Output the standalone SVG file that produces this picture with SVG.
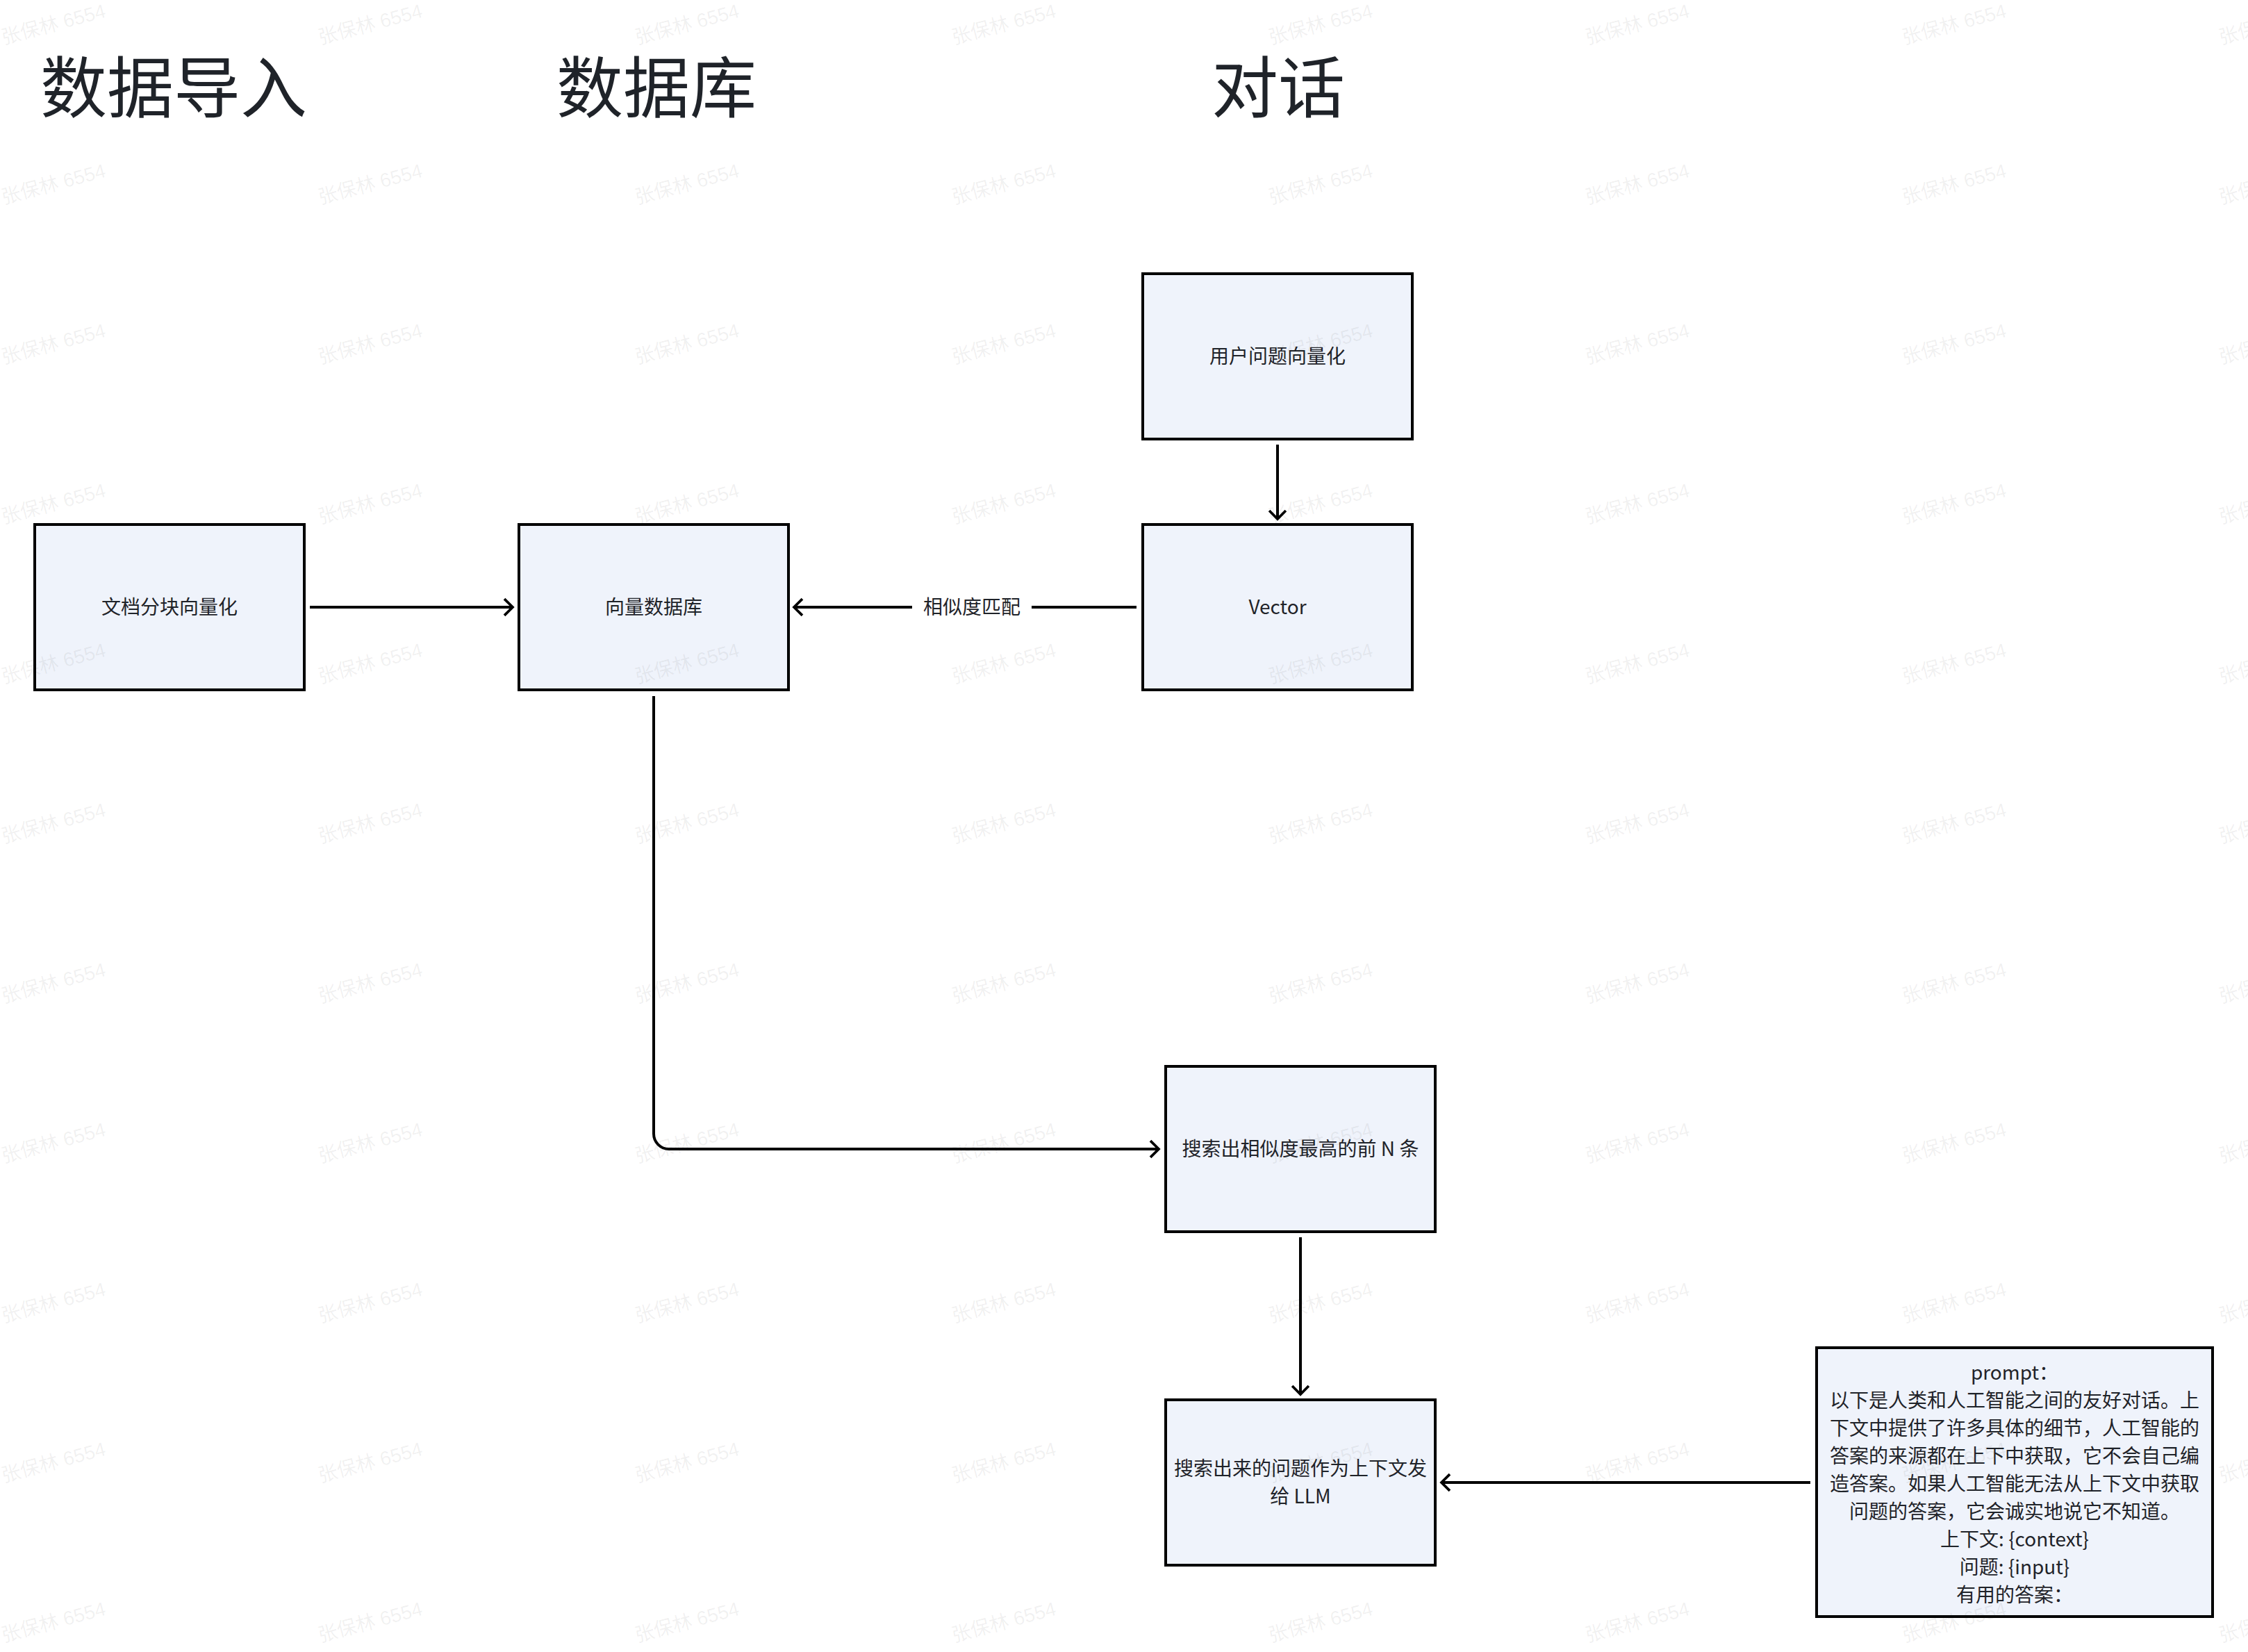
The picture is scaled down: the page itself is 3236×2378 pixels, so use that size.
<svg xmlns="http://www.w3.org/2000/svg" width="3236" height="2378" viewBox="0 0 3236 2378">
<defs>
<style>
.title{font-family:"Noto Sans CJK SC","Noto Sans",sans-serif;font-size:96px;fill:#1f2329;}
.box{fill:#eff3fb;stroke:#000;stroke-width:4;}
.t{font-family:"Noto Sans CJK SC","Noto Sans",sans-serif;font-size:28px;fill:#1f2329;text-anchor:middle;}
.edge{fill:none;stroke:#000;stroke-width:4;}
.wm{font-family:"Liberation Sans","Noto Sans CJK SC",sans-serif;font-size:28px;fill:#1f2329;fill-opacity:0.07;}
</style>
<marker id="arr" markerUnits="userSpaceOnUse" markerWidth="30" markerHeight="30" viewBox="-16 -16 20 32" refX="0" refY="0" orient="auto">
<path d="M -12.8 -12.7 L 0 0 L -12.8 12.7" fill="none" stroke="#000" stroke-width="4" stroke-linejoin="miter"/>
</marker>
<text id="w" class="wm" transform="rotate(-15)">张保林 6554</text>
</defs>
<rect width="3236" height="2378" fill="#fff"/>

<g id="titles">
<text class="title" x="58" y="161">数据导入</text>
<text class="title" x="801" y="161">数据库</text>
<text class="title" x="1744" y="161">对话</text>
</g>

<g id="edges">
<path class="edge" d="M 446 874 H 738" marker-end="url(#arr)"/>
<path class="edge" d="M 1636 874 H 1143" marker-end="url(#arr)"/>
<rect x="1313" y="850" width="172" height="48" fill="#fff"/>
<text class="t" x="1399" y="884">相似度匹配</text>
<path class="edge" d="M 1839 640 V 747" marker-end="url(#arr)"/>
<path class="edge" d="M 941 1002 V 1632 A 22 22 0 0 0 963 1654 H 1668" marker-end="url(#arr)"/>
<path class="edge" d="M 1872 1781 V 2007" marker-end="url(#arr)"/>
<path class="edge" d="M 2606 2134 H 2075" marker-end="url(#arr)"/>
</g>

<g id="node-doc">
<rect class="box" x="50" y="755" width="388" height="238"/>
<text class="t" x="244" y="884">文档分块向量化</text>
</g>
<g id="node-vdb">
<rect class="box" x="747" y="755" width="388" height="238"/>
<text class="t" x="941" y="884">向量数据库</text>
</g>
<g id="node-question">
<rect class="box" x="1645" y="394" width="388" height="238"/>
<text class="t" x="1839" y="523">用户问题向量化</text>
</g>
<g id="node-vector">
<rect class="box" x="1645" y="755" width="388" height="238"/>
<text class="t" x="1839" y="884">Vector</text>
</g>
<g id="node-topn">
<rect class="box" x="1678" y="1535" width="388" height="238"/>
<text class="t" x="1872" y="1664">搜索出相似度最高的前 N 条</text>
</g>
<g id="node-llm">
<rect class="box" x="1678" y="2015" width="388" height="238"/>
<text class="t" x="1872" y="2124">搜索出来的问题作为上下文发</text>
<text class="t" x="1872" y="2164">给 LLM</text>
</g>
<g id="node-prompt">
<rect class="box" x="2615" y="1940" width="570" height="387"/>
<text class="t" x="2900" y="1986">prompt：</text>
<text class="t" x="2900" y="2026">以下是人类和人工智能之间的友好对话。上</text>
<text class="t" x="2900" y="2066">下文中提供了许多具体的细节，人工智能的</text>
<text class="t" x="2900" y="2106">答案的来源都在上下中获取，它不会自己编</text>
<text class="t" x="2900" y="2146">造答案。如果人工智能无法从上下文中获取</text>
<text class="t" x="2900" y="2186">问题的答案，它会诚实地说它不知道。</text>
<text class="t" x="2900" y="2226">上下文: {context}</text>
<text class="t" x="2900" y="2266">问题: {input}</text>
<text class="t" x="2900" y="2306">有用的答案：</text>
</g>

<g id="watermark">
<use href="#w" transform="translate(5 64)"/>
<use href="#w" transform="translate(461 64)"/>
<use href="#w" transform="translate(917 64)"/>
<use href="#w" transform="translate(1373 64)"/>
<use href="#w" transform="translate(1829 64)"/>
<use href="#w" transform="translate(2285 64)"/>
<use href="#w" transform="translate(2741 64)"/>
<use href="#w" transform="translate(3197 64)"/>
<use href="#w" transform="translate(5 294)"/>
<use href="#w" transform="translate(461 294)"/>
<use href="#w" transform="translate(917 294)"/>
<use href="#w" transform="translate(1373 294)"/>
<use href="#w" transform="translate(1829 294)"/>
<use href="#w" transform="translate(2285 294)"/>
<use href="#w" transform="translate(2741 294)"/>
<use href="#w" transform="translate(3197 294)"/>
<use href="#w" transform="translate(5 524)"/>
<use href="#w" transform="translate(461 524)"/>
<use href="#w" transform="translate(917 524)"/>
<use href="#w" transform="translate(1373 524)"/>
<use href="#w" transform="translate(1829 524)"/>
<use href="#w" transform="translate(2285 524)"/>
<use href="#w" transform="translate(2741 524)"/>
<use href="#w" transform="translate(3197 524)"/>
<use href="#w" transform="translate(5 754)"/>
<use href="#w" transform="translate(461 754)"/>
<use href="#w" transform="translate(917 754)"/>
<use href="#w" transform="translate(1373 754)"/>
<use href="#w" transform="translate(1829 754)"/>
<use href="#w" transform="translate(2285 754)"/>
<use href="#w" transform="translate(2741 754)"/>
<use href="#w" transform="translate(3197 754)"/>
<use href="#w" transform="translate(5 984)"/>
<use href="#w" transform="translate(461 984)"/>
<use href="#w" transform="translate(917 984)"/>
<use href="#w" transform="translate(1373 984)"/>
<use href="#w" transform="translate(1829 984)"/>
<use href="#w" transform="translate(2285 984)"/>
<use href="#w" transform="translate(2741 984)"/>
<use href="#w" transform="translate(3197 984)"/>
<use href="#w" transform="translate(5 1214)"/>
<use href="#w" transform="translate(461 1214)"/>
<use href="#w" transform="translate(917 1214)"/>
<use href="#w" transform="translate(1373 1214)"/>
<use href="#w" transform="translate(1829 1214)"/>
<use href="#w" transform="translate(2285 1214)"/>
<use href="#w" transform="translate(2741 1214)"/>
<use href="#w" transform="translate(3197 1214)"/>
<use href="#w" transform="translate(5 1444)"/>
<use href="#w" transform="translate(461 1444)"/>
<use href="#w" transform="translate(917 1444)"/>
<use href="#w" transform="translate(1373 1444)"/>
<use href="#w" transform="translate(1829 1444)"/>
<use href="#w" transform="translate(2285 1444)"/>
<use href="#w" transform="translate(2741 1444)"/>
<use href="#w" transform="translate(3197 1444)"/>
<use href="#w" transform="translate(5 1674)"/>
<use href="#w" transform="translate(461 1674)"/>
<use href="#w" transform="translate(917 1674)"/>
<use href="#w" transform="translate(1373 1674)"/>
<use href="#w" transform="translate(1829 1674)"/>
<use href="#w" transform="translate(2285 1674)"/>
<use href="#w" transform="translate(2741 1674)"/>
<use href="#w" transform="translate(3197 1674)"/>
<use href="#w" transform="translate(5 1904)"/>
<use href="#w" transform="translate(461 1904)"/>
<use href="#w" transform="translate(917 1904)"/>
<use href="#w" transform="translate(1373 1904)"/>
<use href="#w" transform="translate(1829 1904)"/>
<use href="#w" transform="translate(2285 1904)"/>
<use href="#w" transform="translate(2741 1904)"/>
<use href="#w" transform="translate(3197 1904)"/>
<use href="#w" transform="translate(5 2134)"/>
<use href="#w" transform="translate(461 2134)"/>
<use href="#w" transform="translate(917 2134)"/>
<use href="#w" transform="translate(1373 2134)"/>
<use href="#w" transform="translate(1829 2134)"/>
<use href="#w" transform="translate(2285 2134)"/>
<use href="#w" transform="translate(2741 2134)"/>
<use href="#w" transform="translate(3197 2134)"/>
<use href="#w" transform="translate(5 2364)"/>
<use href="#w" transform="translate(461 2364)"/>
<use href="#w" transform="translate(917 2364)"/>
<use href="#w" transform="translate(1373 2364)"/>
<use href="#w" transform="translate(1829 2364)"/>
<use href="#w" transform="translate(2285 2364)"/>
<use href="#w" transform="translate(2741 2364)"/>
<use href="#w" transform="translate(3197 2364)"/>
</g>
</svg>
